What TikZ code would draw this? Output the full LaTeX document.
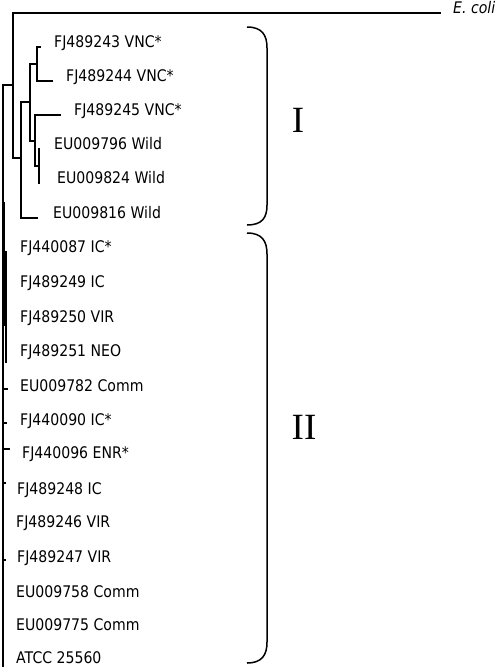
\documentclass[tikz,border=0pt]{standalone}
\usepackage{fontspec}
\setmainfont{DejaVu Sans}[FakeStretch=0.88]
\newfontfamily\romanfont{Liberation Serif}
\tikzset{
  branch/.style={line width=1.2pt, line cap=rect},
  brack/.style={line width=1.5pt},
  taxon/.style={anchor=base west, inner sep=0pt, font=\fontsize{16}{18}\selectfont},
  grp/.style={inner sep=0pt, font=\romanfont\fontsize{37}{40}\selectfont}
}
\begin{document}
\begin{tikzpicture}[x=1pt,y=-1pt]
\useasboundingbox (0,0) rectangle (500,667);
% internal nodes
\coordinate (F) at (13,85);
\coordinate (E) at (21,158);
\coordinate (D) at (30,102);
\coordinate (C) at (37,64);
\coordinate (A) at (35,141);
\coordinate (B1) at (39,149);
\coordinate (B2) at (39,183);
\coordinate (Rb) at (3,667);
% tips group I
\coordinate (tEc) at (440,13);
\coordinate (t243) at (40,47);
\coordinate (t244) at (52,81);
\coordinate (t245) at (60,115);
\coordinate (t816) at (37,218);
% group II sub-clades
\coordinate (g1a) at (4.5,203);
\coordinate (g1b) at (4.5,325);
\coordinate (g2a) at (6,252);
\coordinate (g2b) at (6,362);
\coordinate (k1a) at (3,389); \coordinate (k1b) at (7,389);
\coordinate (k2a) at (3,423); \coordinate (k2b) at (6,423);
\coordinate (k3a) at (3,449); \coordinate (k3b) at (9,449);
\coordinate (k4a) at (3,483); \coordinate (k4b) at (5,483);
\coordinate (k5a) at (3,560); \coordinate (k5b) at (5,560);

% labels
\node[taxon, font=\fontsize{16}{18}\selectfont\itshape] (ec) at (453,13) {E. coli};
\node[taxon] (l243) at (54,47) {FJ489243 VNC*};
\node[taxon] (l244) at (66,81) {FJ489244 VNC*};
\node[taxon] (l245) at (74,115) {FJ489245 VNC*};
\node[taxon] (l796) at (54,149) {EU009796 Wild};
\node[taxon] (l824) at (57,183) {EU009824 Wild};
\node[taxon] (l816) at (53,218) {EU009816 Wild};

\node[taxon] (m1) at (20,252) {FJ440087 IC*};
\node[taxon] (m2) at (20,287) {FJ489249 IC};
\node[taxon] (m3) at (20,322) {FJ489250 VIR};
\node[taxon] (m4) at (20,356) {FJ489251 NEO};
\node[taxon] (m5) at (20,391) {EU009782 Comm};
\node[taxon] (m6) at (20,425) {FJ440090 IC*};
\node[taxon] (m7) at (22,458) {FJ440096 ENR*};
\node[taxon] (m8) at (17,494) {FJ489248 IC};
\node[taxon] (m9) at (16,527) {FJ489246 VIR};
\node[taxon] (m10) at (17,562) {FJ489247 VIR};
\node[taxon] (m11) at (16,597) {EU009758 Comm};
\node[taxon] (m12) at (16,630) {EU009775 Comm};
\node[taxon] (m13) at (16,663) {ATCC 25560};

% tree
\draw[branch] (F) |- (tEc);
\draw[branch] (F) |- (E);
\draw[branch] (F) -| (Rb);
\draw[branch] (E) |- (D);
\draw[branch] (E) |- (t816);
\draw[branch] (D) |- (C);
\draw[branch] (D) |- (A);
\draw[branch] (C) |- (t243);
\draw[branch] (C) |- (t244);
\draw[branch] (A) |- (t245);
\draw[branch] (A) |- (39,166);
\draw[branch] (B1) -- (B2);
\draw[branch] (g1a) -- (g1b);
\draw[branch] (g2a) -- (g2b);
\draw[line width=2.2pt] (5.5,252) -- (5.5,320);
\draw[branch] (k1a) -- (k1b);
\draw[branch] (k2a) -- (k2b);
\draw[branch] (k3a) -- (k3b);
\draw[branch] (k4a) -- (k4b);
\draw[branch] (k5a) -- (k5b);

% brackets
\draw[brack] (247,27) .. controls (262,27) and (267,35) .. (267,48) -- (267,205) .. controls (267,218) and (262,225) .. (247,225);
\draw[brack] (247,233) .. controls (262,233) and (267,241) .. (267,254) -- (267,642) .. controls (267,655) and (262,663) .. (247,663);
\node[grp] (gI) at (298,120) {I};
\node[grp] (gII) at (304,427) {II};
\end{tikzpicture}
\end{document}
